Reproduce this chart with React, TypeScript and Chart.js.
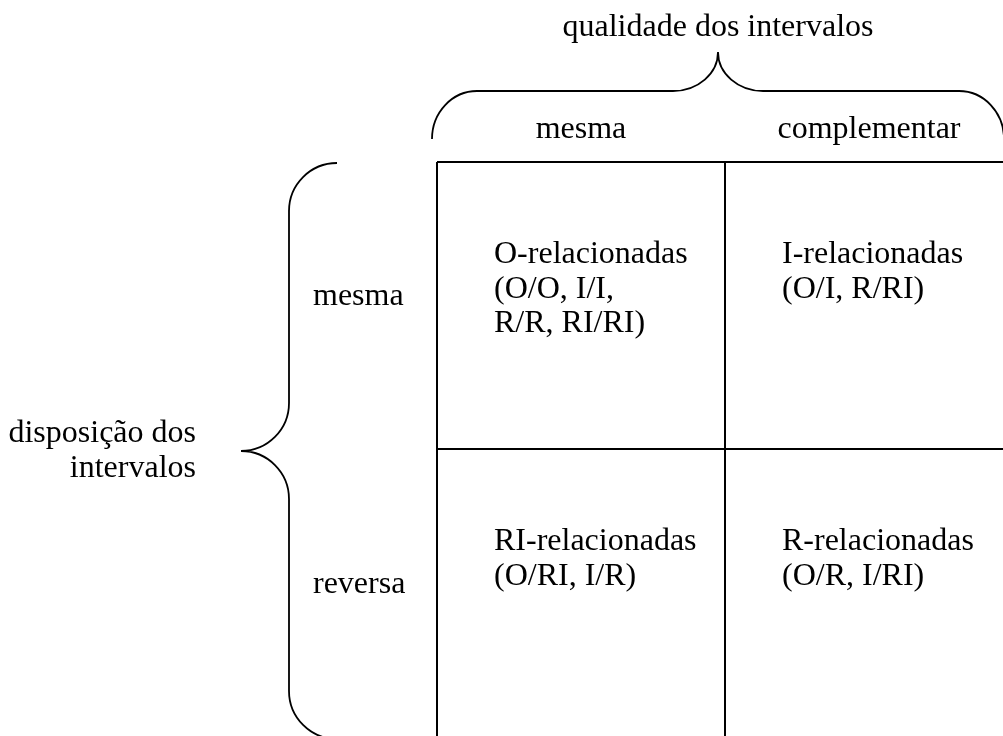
import React, { useEffect, useRef } from "react";
import { Chart, registerables } from "chart.js";

Chart.register(...registerables);

const W = 1003;
const H = 736;

// grid of the 2x2 table (value space = page pixels)
const gridXs = [437, 725, 1013];
const gridYs = [162, 449, 738];

// texts
const topTitle = "qualidade dos intervalos";
const columnHeaders = ["mesma", "complementar"];
const rowHeaders = ["mesma", "reversa"];
const sideTitle = ["disposição dos", "intervalos"];
const cellTexts = [
  ["O-relacionadas", "(O/O, I/I,", "R/R, RI/RI)"],
  ["I-relacionadas", "(O/I, R/RI)"],
  ["RI-relacionadas", "(O/RI, I/R)"],
  ["R-relacionadas", "(O/R, I/RI)"],
];

// braces: [startX, startY, tipX, tipY, endX, endY, barPos, endRadius, tipRadius]
const topBrace = [432, 139, 718, 52, 1004, 139, 91, 45, 45];
const leftBrace = [337, 163, 241, 451, 337, 739, 289, 48, 48];

const FONT = '32px "Liberation Serif", "Times New Roman", serif';
const K = 0.5523;

const gridDatasets = [
  ...gridXs.map((x) => ({
    data: [
      { x, y: gridYs[0] },
      { x, y: gridYs[2] },
    ],
  })),
  ...gridYs.map((y) => ({
    data: [
      { x: gridXs[0], y },
      { x: gridXs[2], y },
    ],
  })),
].map((d) => ({
  ...d,
  showLine: true,
  borderColor: "#000",
  borderWidth: 2,
  pointRadius: 0,
  fill: false,
}));

const overlayPlugin = {
  id: "overlay",
  afterDatasetsDraw(chart: any) {
    const ctx = chart.ctx;
    const sx = chart.scales.x;
    const sy = chart.scales.y;
    const px = (v: number) => sx.getPixelForValue(v);
    const py = (v: number) => sy.getPixelForValue(v);

    ctx.save();
    ctx.strokeStyle = "#000";
    ctx.lineWidth = 1.8;
    ctx.lineCap = "butt";

    // top (horizontal) brace
    {
      const [x0, y0, xt, yt, x1, y1, bar, re, rt] = topBrace;
      ctx.beginPath();
      ctx.moveTo(px(x0), py(y0));
      ctx.bezierCurveTo(px(x0), py(y0 - (y0 - bar) * K), px(x0 + re - re * K), py(bar), px(x0 + re), py(bar));
      ctx.lineTo(px(xt - rt), py(bar));
      ctx.bezierCurveTo(px(xt - rt + rt * K), py(bar), px(xt), py(yt + (bar - yt) * K), px(xt), py(yt));
      ctx.bezierCurveTo(px(xt), py(yt + (bar - yt) * K), px(xt + rt - rt * K), py(bar), px(xt + rt), py(bar));
      ctx.lineTo(px(x1 - re), py(bar));
      ctx.bezierCurveTo(px(x1 - re + re * K), py(bar), px(x1), py(y1 - (y1 - bar) * K), px(x1), py(y1));
      ctx.stroke();
    }

    // left (vertical) brace
    {
      const [x0, y0, xt, yt, x1, y1, bar, re, rt] = leftBrace;
      ctx.beginPath();
      ctx.moveTo(px(x0), py(y0));
      ctx.bezierCurveTo(px(x0 - (x0 - bar) * K), py(y0), px(bar), py(y0 + re - re * K), px(bar), py(y0 + re));
      ctx.lineTo(px(bar), py(yt - rt));
      ctx.bezierCurveTo(px(bar), py(yt - rt + rt * K), px(xt + (bar - xt) * K), py(yt), px(xt), py(yt));
      ctx.bezierCurveTo(px(xt + (bar - xt) * K), py(yt), px(bar), py(yt + rt - rt * K), px(bar), py(yt + rt));
      ctx.lineTo(px(bar), py(y1 - re));
      ctx.bezierCurveTo(px(bar), py(y1 - re + re * K), px(x1 - (x1 - bar) * K), py(y1), px(x1), py(y1));
      ctx.stroke();
    }

    // texts
    ctx.fillStyle = "#000";
    ctx.font = FONT;
    ctx.textBaseline = "alphabetic";

    ctx.textAlign = "center";
    ctx.fillText(topTitle, px(topBrace[2]), py(36));
    columnHeaders.forEach((t, i) => {
      ctx.fillText(t, px((gridXs[i] + gridXs[i + 1]) / 2), py(138));
    });

    ctx.textAlign = "left";
    const rowCenters = [305, 593];
    rowHeaders.forEach((t, i) => {
      ctx.fillText(t, px(313), py(rowCenters[i]));
    });

    ctx.textAlign = "right";
    sideTitle.forEach((t, i) => {
      ctx.fillText(t, px(196), py(442 + i * 35));
    });

    ctx.textAlign = "left";
    const lineH = 34.5;
    cellTexts.forEach((lines, idx) => {
      const col = idx % 2;
      const row = Math.floor(idx / 2);
      const x = gridXs[col] + 57;
      const y0 = gridYs[row] + 101;
      lines.forEach((t, j) => {
        ctx.fillText(t, px(x), py(y0 + j * lineH));
      });
    });

    ctx.restore();
  },
};

export default function App() {
  const ref = useRef<HTMLCanvasElement | null>(null);

  useEffect(() => {
    document.body.style.margin = "0";
    const canvas = ref.current;
    if (!canvas) return;
    const chart = new Chart(canvas, {
      type: "scatter",
      data: { datasets: gridDatasets as any },
      options: {
        animation: false,
        responsive: false,
        devicePixelRatio: 1,
        layout: { padding: 0 },
        plugins: {
          legend: { display: false },
          tooltip: { enabled: false },
          title: { display: false },
        },
        scales: {
          x: { type: "linear", min: 0, max: W, display: false },
          y: { type: "linear", min: 0, max: H, reverse: true, display: false },
        },
      },
      plugins: [overlayPlugin],
    });
    return () => chart.destroy();
  }, []);

  return (
    <div style={{ position: "absolute", left: 0, top: 0, width: W, height: H, background: "#fff" }}>
      <canvas ref={ref} width={W} height={H} style={{ display: "block", width: W, height: H }} />
    </div>
  );
}
